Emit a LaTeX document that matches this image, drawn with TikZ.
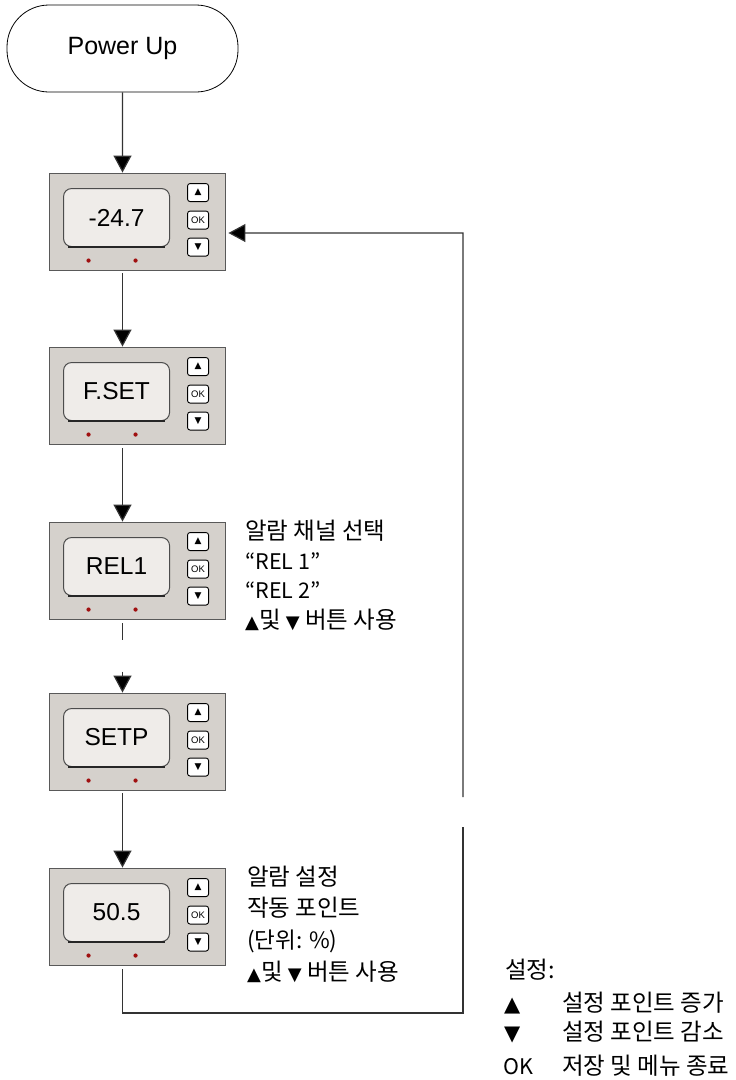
\documentclass[tikz,border=0pt]{standalone}
\usepackage{fontspec}
\setmainfont{Liberation Sans}
\newfontfamily\krfont{Noto Sans CJK KR}
\newfontfamily\symfont{DejaVu Sans}
\usetikzlibrary{arrows.meta,calc}
\definecolor{boxgray}{HTML}{D5D1CC}
\definecolor{dispfill}{HTML}{EFECE9}
\definecolor{dotred}{HTML}{A01010}
\definecolor{linegray}{HTML}{333333}
\tikzset{
  devbox/.style={draw=black!65, line width=0.9bp, fill=boxgray, minimum width=176bp, minimum height=97bp, inner sep=0},
  disp/.style={draw=black!70, line width=1bp, fill=dispfill, rounded corners=8bp, minimum width=106bp, minimum height=58bp, inner sep=0, font=\fontsize{24.5bp}{28bp}\selectfont},
  btn/.style={draw=black, line width=0.9bp, fill=white, rounded corners=2.5bp, minimum width=21bp, minimum height=18bp, inner sep=0},
  conn/.style={draw=linegray, line width=1.2bp},
  arr/.style={conn, -{Triangle[width=18bp,length=17bp,fill=black]}},
  note/.style={font=\krfont\fontsize{23.5bp}{26bp}\selectfont, anchor=base west, inner sep=0},
  latnote/.style={note, font=\krfont\fontsize{21.5bp}{26bp}\selectfont},
  startnode/.style={draw=black, line width=0.8bp, rounded corners=42bp, minimum width=231bp, minimum height=87bp, font=\fontsize{25bp}{28bp}\selectfont},
}
\newcommand\notetri{{\symfont\fontsize{18bp}{18bp}\selectfont ▲}}
\newcommand\notetridown{{\symfont\fontsize{18bp}{18bp}\selectfont ▼}}
\newcommand\device[3]{%
  \node[devbox] (#1) at (137,#2) {};
  \node[disp] (#1d) at ($(#1.north west)+(68,45)$) {#3};
  \draw[line width=2bp, black!85] ($(#1d.south west)+(5,0.3)$) -- ($(#1d.south east)+(-5,0.3)$);
  \node[btn] (#1u) at ($(#1.north west)+(149.5,20)$) {\symfont\fontsize{9bp}{9bp}\selectfont ▲};
  \node[btn] (#1o) at ($(#1.north west)+(149.5,47.5)$) {\fontsize{9.5bp}{9.5bp}\selectfont OK};
  \node[btn] (#1w) at ($(#1.north west)+(149.5,74.5)$) {\symfont\fontsize{9bp}{9bp}\selectfont ▼};
  \fill[dotred] ($(#1.north west)+(40,88)$) circle (2.1bp);
  \fill[dotred] ($(#1.north west)+(87,88)$) circle (2.1bp);
}
\begin{document}
\begin{tikzpicture}[x=1bp,y=-1bp]
\useasboundingbox (0,0) rectangle (736,1080);
\fill[white] (0,0) rectangle (736,1080);

\node[startnode] (pu) at (122.5,48.5) {Power Up};

\device{b1}{221.5}{-24.7}
\device{b2}{395.5}{F.SET}
\device{b3}{570.5}{REL1}
\device{b4}{741.5}{SETP}
\device{b5}{916.5}{50.5}

% vertical connectors
\coordinate (t1) at ($(b1.north)+(-14.5,0)$);
\coordinate (s1) at ($(b1.south)+(-14.5,3)$);
\coordinate (t2) at ($(b2.north)+(-14.5,0)$);
\coordinate (s2) at ($(b2.south)+(-14.5,4)$);
\coordinate (t3) at ($(b3.north)+(-14.5,0)$);
\coordinate (s3) at ($(b3.south)+(-14.5,4)$);
\coordinate (g1) at ($(b3.south)+(-14.5,21)$);
\coordinate (g2) at ($(b4.north)+(-14.5,-21)$);
\coordinate (t4) at ($(b4.north)+(-14.5,0)$);
\coordinate (s4) at ($(b4.south)+(-14.5,3)$);
\coordinate (t5) at ($(b5.north)+(-14.5,0)$);
\coordinate (s5) at ($(b5.south)+(-14.5,4)$);

\draw[arr] (pu.south) -- (t1);
\draw[arr] (s1) -- (t2);
\draw[arr] (s2) -- (t3);
\draw[conn] (s3) -- (g1);
\draw[arr] (g2) -- (t4);
\draw[arr] (s4) -- (t5);

% return loop
\coordinate (lc) at (463,1013);
\coordinate (lg1) at (463,827);
\coordinate (lg2) at (463,797);
\coordinate (lt) at (463,233);
\coordinate (a1) at ($(b1.east)+(3,11.5)$);
\draw[conn] (s5) |- (lc) -- (lg1);
\draw[arr] (lg2) -- (lt) -- (a1);

% notes for REL1
\node[note] (n31) at (245,539) {알람 채널 선택};
\node[latnote] (n32) at (245,569) {“REL 1”};
\node[latnote] (n33) at (245,598) {“REL 2”};
\node[note] (n34) at (245,628) {\notetri 및 \notetridown\ 버튼 사용};

% notes for 50.5
\node[note] (n51) at (247,885) {알람 설정};
\node[note] (n52) at (247,916) {작동 포인트};
\node[note, font=\krfont\fontsize{22.5bp}{26bp}\selectfont] (n53) at (247,948) {(단위: \%)};
\node[note] (n54) at (247,980) {\notetri 및 \notetridown\ 버튼 사용};

% legend
\node[note] (lgh) at (505,978) {설정:};
\node[note, font=\symfont\fontsize{21bp}{24bp}\selectfont] (lgs1) at (504,1011) {▲};
\node[note] (lgt1) at (562,1011) {설정 포인트 증가};
\node[note, font=\symfont\fontsize{21bp}{24bp}\selectfont] (lgs2) at (504,1040) {▼};
\node[note] (lgt2) at (562,1040) {설정 포인트 감소};
\node[latnote] (lgs3) at (503,1074) {OK};
\node[note] (lgt3) at (562,1074) {저장 및 메뉴 종료};
\end{tikzpicture}
\end{document}
